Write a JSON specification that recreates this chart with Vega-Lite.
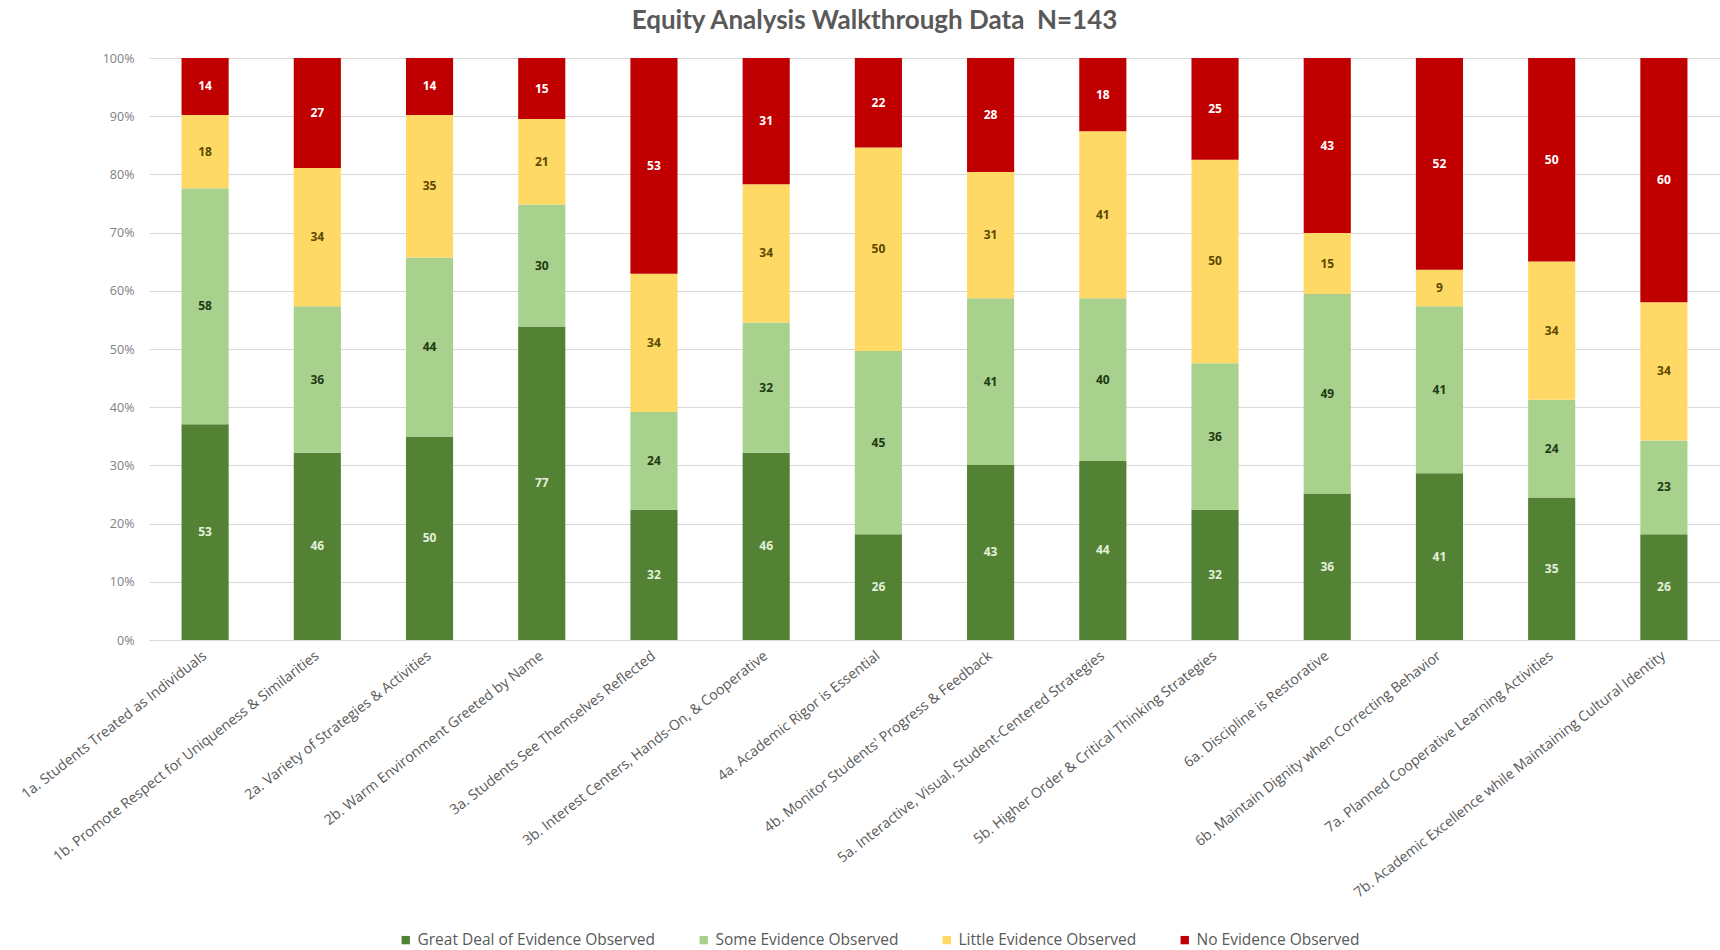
{
  "$schema": "https://vega.github.io/schema/vega-lite/v6.json",
  "autosize": {"type": "none"},
  "padding": {"left": 149, "top": 58, "right": 0, "bottom": 310},
  "width": 1571,
  "height": 582,
  "background": "white",
  "title": {
    "text": "Equity Analysis Walkthrough Data\u00a0 N=143",
    "fontSize": 26,
    "font": "Lato",
    "fontWeight": "bold",
    "color": "#595959",
    "anchor": "middle",
    "dx": -60,
    "offset": 18
  },
  "config": {
    "font": "Open Sans",
    "view": {"stroke": null}
  },
  "data": {
    "values": [
      {"item": "1a. Students Treated as Individuals", "evidence": "Great Deal of Evidence Observed", "rank": 1, "count": 53},
      {"item": "1a. Students Treated as Individuals", "evidence": "Some Evidence Observed", "rank": 2, "count": 58},
      {"item": "1a. Students Treated as Individuals", "evidence": "Little Evidence Observed", "rank": 3, "count": 18},
      {"item": "1a. Students Treated as Individuals", "evidence": "No Evidence Observed", "rank": 4, "count": 14},
      {"item": "1b. Promote Respect for Uniqueness & Similarities", "evidence": "Great Deal of Evidence Observed", "rank": 1, "count": 46},
      {"item": "1b. Promote Respect for Uniqueness & Similarities", "evidence": "Some Evidence Observed", "rank": 2, "count": 36},
      {"item": "1b. Promote Respect for Uniqueness & Similarities", "evidence": "Little Evidence Observed", "rank": 3, "count": 34},
      {"item": "1b. Promote Respect for Uniqueness & Similarities", "evidence": "No Evidence Observed", "rank": 4, "count": 27},
      {"item": "2a. Variety of Strategies & Activities", "evidence": "Great Deal of Evidence Observed", "rank": 1, "count": 50},
      {"item": "2a. Variety of Strategies & Activities", "evidence": "Some Evidence Observed", "rank": 2, "count": 44},
      {"item": "2a. Variety of Strategies & Activities", "evidence": "Little Evidence Observed", "rank": 3, "count": 35},
      {"item": "2a. Variety of Strategies & Activities", "evidence": "No Evidence Observed", "rank": 4, "count": 14},
      {"item": "2b. Warm Environment Greeted by Name", "evidence": "Great Deal of Evidence Observed", "rank": 1, "count": 77},
      {"item": "2b. Warm Environment Greeted by Name", "evidence": "Some Evidence Observed", "rank": 2, "count": 30},
      {"item": "2b. Warm Environment Greeted by Name", "evidence": "Little Evidence Observed", "rank": 3, "count": 21},
      {"item": "2b. Warm Environment Greeted by Name", "evidence": "No Evidence Observed", "rank": 4, "count": 15},
      {"item": "3a. Students See Themselves Reflected", "evidence": "Great Deal of Evidence Observed", "rank": 1, "count": 32},
      {"item": "3a. Students See Themselves Reflected", "evidence": "Some Evidence Observed", "rank": 2, "count": 24},
      {"item": "3a. Students See Themselves Reflected", "evidence": "Little Evidence Observed", "rank": 3, "count": 34},
      {"item": "3a. Students See Themselves Reflected", "evidence": "No Evidence Observed", "rank": 4, "count": 53},
      {"item": "3b. Interest Centers, Hands-On, & Cooperative", "evidence": "Great Deal of Evidence Observed", "rank": 1, "count": 46},
      {"item": "3b. Interest Centers, Hands-On, & Cooperative", "evidence": "Some Evidence Observed", "rank": 2, "count": 32},
      {"item": "3b. Interest Centers, Hands-On, & Cooperative", "evidence": "Little Evidence Observed", "rank": 3, "count": 34},
      {"item": "3b. Interest Centers, Hands-On, & Cooperative", "evidence": "No Evidence Observed", "rank": 4, "count": 31},
      {"item": "4a. Academic Rigor is Essential", "evidence": "Great Deal of Evidence Observed", "rank": 1, "count": 26},
      {"item": "4a. Academic Rigor is Essential", "evidence": "Some Evidence Observed", "rank": 2, "count": 45},
      {"item": "4a. Academic Rigor is Essential", "evidence": "Little Evidence Observed", "rank": 3, "count": 50},
      {"item": "4a. Academic Rigor is Essential", "evidence": "No Evidence Observed", "rank": 4, "count": 22},
      {"item": "4b. Monitor Students' Progress & Feedback", "evidence": "Great Deal of Evidence Observed", "rank": 1, "count": 43},
      {"item": "4b. Monitor Students' Progress & Feedback", "evidence": "Some Evidence Observed", "rank": 2, "count": 41},
      {"item": "4b. Monitor Students' Progress & Feedback", "evidence": "Little Evidence Observed", "rank": 3, "count": 31},
      {"item": "4b. Monitor Students' Progress & Feedback", "evidence": "No Evidence Observed", "rank": 4, "count": 28},
      {"item": "5a. Interactive, Visual, Student-Centered Strategies", "evidence": "Great Deal of Evidence Observed", "rank": 1, "count": 44},
      {"item": "5a. Interactive, Visual, Student-Centered Strategies", "evidence": "Some Evidence Observed", "rank": 2, "count": 40},
      {"item": "5a. Interactive, Visual, Student-Centered Strategies", "evidence": "Little Evidence Observed", "rank": 3, "count": 41},
      {"item": "5a. Interactive, Visual, Student-Centered Strategies", "evidence": "No Evidence Observed", "rank": 4, "count": 18},
      {"item": "5b. Higher Order & Critical Thinking Strategies", "evidence": "Great Deal of Evidence Observed", "rank": 1, "count": 32},
      {"item": "5b. Higher Order & Critical Thinking Strategies", "evidence": "Some Evidence Observed", "rank": 2, "count": 36},
      {"item": "5b. Higher Order & Critical Thinking Strategies", "evidence": "Little Evidence Observed", "rank": 3, "count": 50},
      {"item": "5b. Higher Order & Critical Thinking Strategies", "evidence": "No Evidence Observed", "rank": 4, "count": 25},
      {"item": "6a. Discipline is Restorative", "evidence": "Great Deal of Evidence Observed", "rank": 1, "count": 36},
      {"item": "6a. Discipline is Restorative", "evidence": "Some Evidence Observed", "rank": 2, "count": 49},
      {"item": "6a. Discipline is Restorative", "evidence": "Little Evidence Observed", "rank": 3, "count": 15},
      {"item": "6a. Discipline is Restorative", "evidence": "No Evidence Observed", "rank": 4, "count": 43},
      {"item": "6b. Maintain Dignity when Correcting Behavior", "evidence": "Great Deal of Evidence Observed", "rank": 1, "count": 41},
      {"item": "6b. Maintain Dignity when Correcting Behavior", "evidence": "Some Evidence Observed", "rank": 2, "count": 41},
      {"item": "6b. Maintain Dignity when Correcting Behavior", "evidence": "Little Evidence Observed", "rank": 3, "count": 9},
      {"item": "6b. Maintain Dignity when Correcting Behavior", "evidence": "No Evidence Observed", "rank": 4, "count": 52},
      {"item": "7a. Planned Cooperative Learning Activities", "evidence": "Great Deal of Evidence Observed", "rank": 1, "count": 35},
      {"item": "7a. Planned Cooperative Learning Activities", "evidence": "Some Evidence Observed", "rank": 2, "count": 24},
      {"item": "7a. Planned Cooperative Learning Activities", "evidence": "Little Evidence Observed", "rank": 3, "count": 34},
      {"item": "7a. Planned Cooperative Learning Activities", "evidence": "No Evidence Observed", "rank": 4, "count": 50},
      {"item": "7b. Academic Excellence while Maintaining Cultural Identity", "evidence": "Great Deal of Evidence Observed", "rank": 1, "count": 26},
      {"item": "7b. Academic Excellence while Maintaining Cultural Identity", "evidence": "Some Evidence Observed", "rank": 2, "count": 23},
      {"item": "7b. Academic Excellence while Maintaining Cultural Identity", "evidence": "Little Evidence Observed", "rank": 3, "count": 34},
      {"item": "7b. Academic Excellence while Maintaining Cultural Identity", "evidence": "No Evidence Observed", "rank": 4, "count": 60}
    ]
  },
  "encoding": {
    "x": {
      "field": "item",
      "type": "nominal",
      "sort": null,
      "title": null,
      "scale": {"paddingInner": 0.58, "paddingOuter": 0.29},
      "axis": {
        "labelAngle": -38,
        "labelAlign": "right",
        "labelBaseline": "middle",
        "labelFont": "Open Sans",
        "labelFontSize": 14.2,
        "labelColor": "#595959",
        "labelLimit": 700,
        "labelPadding": 14,
        "ticks": false,
        "domain": true,
        "domainColor": "#d9d9d9",
        "grid": false
      }
    }
  },
  "layer": [
    {
      "mark": {"type": "bar"},
      "encoding": {
        "y": {
          "field": "count",
          "type": "quantitative",
          "stack": "normalize",
          "title": null,
          "scale": {"domain": [0, 1]},
          "axis": {
            "format": ".0%",
            "values": [0, 0.1, 0.2, 0.3, 0.4, 0.5, 0.6, 0.7, 0.8, 0.9, 1],
            "labelFont": "Open Sans",
            "labelFontSize": 12.5,
            "labelColor": "#7f7f7f",
            "labelPadding": 15,
            "ticks": false,
            "domain": false,
            "grid": true,
            "gridColor": "#d9d9d9",
            "gridWidth": 1
          }
        },
        "color": {
          "field": "evidence",
          "type": "nominal",
          "scale": {
            "domain": ["Great Deal of Evidence Observed", "Some Evidence Observed", "Little Evidence Observed", "No Evidence Observed"],
            "range": ["#548235", "#a9d18e", "#ffd966", "#c00000"]
          },
          "legend": {
            "title": null,
            "orient": "none",
            "direction": "horizontal",
            "legendX": 249,
            "legendY": 874,
            "symbolType": "square",
            "symbolSize": 70,
            "symbolStrokeWidth": 0,
            "labelFont": "Open Sans",
            "labelFontSize": 15.5,
            "labelColor": "#595959",
            "columnPadding": 40,
            "labelLimit": 400
          }
        },
        "order": {"field": "rank", "type": "quantitative", "sort": "ascending"}
      }
    },
    {
      "mark": {"type": "text", "fontWeight": "bold", "fontSize": 12, "font": "Open Sans", "baseline": "middle"},
      "encoding": {
        "y": {
          "field": "count",
          "type": "quantitative",
          "stack": "normalize",
          "bandPosition": 0.5
        },
        "text": {"field": "count", "type": "quantitative"},
        "color": {
          "field": "evidence",
          "type": "nominal",
          "scale": {
            "domain": ["Great Deal of Evidence Observed", "Some Evidence Observed", "Little Evidence Observed", "No Evidence Observed"],
            "range": ["#e2f0d9", "#1e3a12", "#5c4a00", "#ffffff"]
          },
          "legend": null
        },
        "order": {"field": "rank", "type": "quantitative", "sort": "ascending"}
      }
    }
  ],
  "resolve": {"scale": {"color": "independent"}}
}
